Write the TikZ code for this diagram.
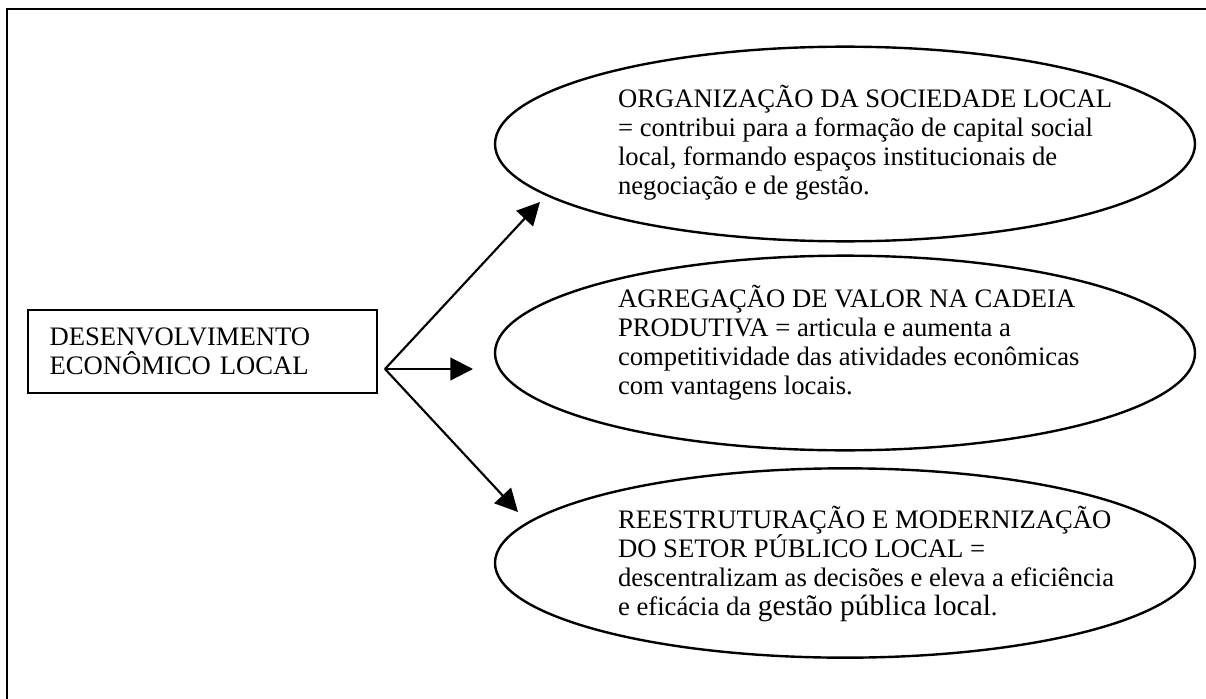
\documentclass[tikz,border=0pt]{standalone}
\usepackage{fontspec}
\setmainfont{Liberation Serif}
\usetikzlibrary{shapes.geometric,arrows.meta,positioning}
\tikzset{
  elipse/.style={draw, ellipse, line width=1.8pt, minimum width=525pt, minimum height=146pt},
  caixa/.style={draw, line width=1.5pt, align=left, text width=229.5pt, inner xsep=16pt, minimum height=62pt, font=\fontsize{20}{21.75}\selectfont},
  texto/.style={align=left, inner sep=0pt, font=\fontsize{20}{21.75}\selectfont},
  seta/.style={-{Triangle[length=17pt,width=17pt]}, line width=1.6pt}
}
\begin{document}
\begin{tikzpicture}[x=0.75pt,y=-0.75pt]
    \useasboundingbox (0,0) rectangle (1206,699);
    % moldura
    \draw[line width=2.2pt] (1206,9) -- (7,9) -- (7,699);
    \node[caixa] (del) at (202.5,351.5) {DESENVOLVIMENTO\\ECONÔMICO LOCAL};
    \node[elipse] (org) at (845,144) {};
    \node[elipse] (agr) at (845,353) {};
    \node[elipse, minimum height=142pt] (ree) at (845,563) {};
    \node[texto, right=93pt of org.west, yshift=1pt] (torg) {ORGANIZAÇÃO DA SOCIEDADE LOCAL\\
      = contribui para a formação de capital social\\
      local, formando espaços institucionais de\\
      negociação e de gestão.};
    \node[texto, right=93pt of agr.west, yshift=8pt] (tagr) {AGREGAÇÃO DE VALOR NA CADEIA\\
      PRODUTIVA = articula e aumenta a\\
      competitividade das atividades econômicas\\
      com vantagens locais.};
    \node[texto, right=93pt of ree.west, yshift=-1pt] (tree) {REESTRUTURAÇÃO E MODERNIZAÇÃO\\
      DO SETOR PÚBLICO LOCAL =\\
      descentralizam as decisões e eleva a eficiência\\
      e eficácia da {\fontsize{22}{21.75}\selectfont gestão pública local}.};
    % setas
    \coordinate (hub) at (385,369);
    \coordinate (p1) at (540,202);
    \coordinate (p2) at (473,369);
    \coordinate (p3) at (518,512);
    \draw[seta] (hub) -- (p1);
    \draw[seta] (hub) -- (p2);
    \draw[seta] (hub) -- (p3);
\end{tikzpicture}
\end{document}
